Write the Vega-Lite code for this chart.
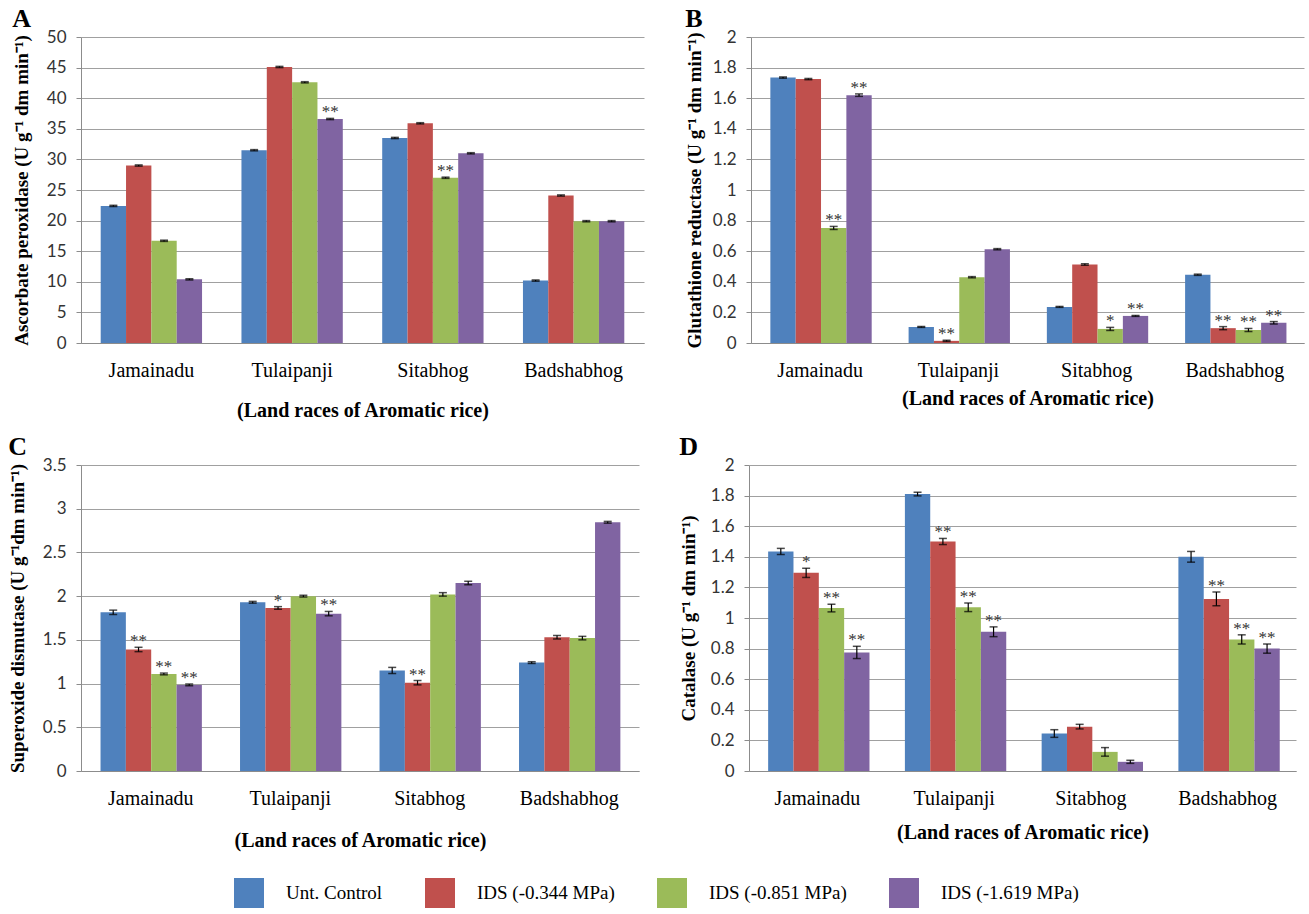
{
  "$schema": "https://vega.github.io/schema/vega-lite/v6.json",
  "background": "white",
  "padding": {"left": 8, "top": 6, "right": 5, "bottom": 0},
  "datasets": {
    "apx": [
      {"race": "Jamainadu", "treat": "Unt. Control", "value": 22.4, "lo": 22.3, "hi": 22.5, "sig": ""},
      {"race": "Jamainadu", "treat": "IDS (-0.344 MPa)", "value": 29.0, "lo": 28.9, "hi": 29.1, "sig": ""},
      {"race": "Jamainadu", "treat": "IDS (-0.851 MPa)", "value": 16.7, "lo": 16.6, "hi": 16.8, "sig": ""},
      {"race": "Jamainadu", "treat": "IDS (-1.619 MPa)", "value": 10.4, "lo": 10.3, "hi": 10.5, "sig": ""},
      {"race": "Tulaipanji", "treat": "Unt. Control", "value": 31.5, "lo": 31.4, "hi": 31.6, "sig": ""},
      {"race": "Tulaipanji", "treat": "IDS (-0.344 MPa)", "value": 45.1, "lo": 45.0, "hi": 45.2, "sig": ""},
      {"race": "Tulaipanji", "treat": "IDS (-0.851 MPa)", "value": 42.6, "lo": 42.5, "hi": 42.7, "sig": ""},
      {"race": "Tulaipanji", "treat": "IDS (-1.619 MPa)", "value": 36.6, "lo": 36.5, "hi": 36.7, "sig": "**"},
      {"race": "Sitabhog", "treat": "Unt. Control", "value": 33.5, "lo": 33.4, "hi": 33.6, "sig": ""},
      {"race": "Sitabhog", "treat": "IDS (-0.344 MPa)", "value": 35.9, "lo": 35.8, "hi": 36.0, "sig": ""},
      {"race": "Sitabhog", "treat": "IDS (-0.851 MPa)", "value": 27.0, "lo": 26.9, "hi": 27.1, "sig": "**"},
      {"race": "Sitabhog", "treat": "IDS (-1.619 MPa)", "value": 31.0, "lo": 30.9, "hi": 31.1, "sig": ""},
      {"race": "Badshabhog", "treat": "Unt. Control", "value": 10.2, "lo": 10.1, "hi": 10.3, "sig": ""},
      {"race": "Badshabhog", "treat": "IDS (-0.344 MPa)", "value": 24.1, "lo": 24.0, "hi": 24.2, "sig": ""},
      {"race": "Badshabhog", "treat": "IDS (-0.851 MPa)", "value": 19.9, "lo": 19.8, "hi": 20.0, "sig": ""},
      {"race": "Badshabhog", "treat": "IDS (-1.619 MPa)", "value": 19.9, "lo": 19.8, "hi": 20.0, "sig": ""}
    ],
    "gr": [
      {"race": "Jamainadu", "treat": "Unt. Control", "value": 1.735, "lo": 1.731, "hi": 1.739, "sig": ""},
      {"race": "Jamainadu", "treat": "IDS (-0.344 MPa)", "value": 1.725, "lo": 1.721, "hi": 1.729, "sig": ""},
      {"race": "Jamainadu", "treat": "IDS (-0.851 MPa)", "value": 0.752, "lo": 0.742, "hi": 0.762, "sig": "**"},
      {"race": "Jamainadu", "treat": "IDS (-1.619 MPa)", "value": 1.62, "lo": 1.612, "hi": 1.628, "sig": "**"},
      {"race": "Tulaipanji", "treat": "Unt. Control", "value": 0.105, "lo": 0.102, "hi": 0.108, "sig": ""},
      {"race": "Tulaipanji", "treat": "IDS (-0.344 MPa)", "value": 0.014, "lo": 0.01, "hi": 0.018, "sig": "**"},
      {"race": "Tulaipanji", "treat": "IDS (-0.851 MPa)", "value": 0.43, "lo": 0.426, "hi": 0.434, "sig": ""},
      {"race": "Tulaipanji", "treat": "IDS (-1.619 MPa)", "value": 0.613, "lo": 0.609, "hi": 0.617, "sig": ""},
      {"race": "Sitabhog", "treat": "Unt. Control", "value": 0.236, "lo": 0.233, "hi": 0.239, "sig": ""},
      {"race": "Sitabhog", "treat": "IDS (-0.344 MPa)", "value": 0.513, "lo": 0.508, "hi": 0.518, "sig": ""},
      {"race": "Sitabhog", "treat": "IDS (-0.851 MPa)", "value": 0.092, "lo": 0.082, "hi": 0.102, "sig": "*"},
      {"race": "Sitabhog", "treat": "IDS (-1.619 MPa)", "value": 0.177, "lo": 0.174, "hi": 0.18, "sig": "**"},
      {"race": "Badshabhog", "treat": "Unt. Control", "value": 0.446, "lo": 0.442, "hi": 0.45, "sig": ""},
      {"race": "Badshabhog", "treat": "IDS (-0.344 MPa)", "value": 0.097, "lo": 0.087, "hi": 0.107, "sig": "**"},
      {"race": "Badshabhog", "treat": "IDS (-0.851 MPa)", "value": 0.085, "lo": 0.075, "hi": 0.095, "sig": "**"},
      {"race": "Badshabhog", "treat": "IDS (-1.619 MPa)", "value": 0.132, "lo": 0.124, "hi": 0.14, "sig": "**"}
    ],
    "sod": [
      {"race": "Jamainadu", "treat": "Unt. Control", "value": 1.815, "lo": 1.79, "hi": 1.84, "sig": ""},
      {"race": "Jamainadu", "treat": "IDS (-0.344 MPa)", "value": 1.39, "lo": 1.365, "hi": 1.415, "sig": "**"},
      {"race": "Jamainadu", "treat": "IDS (-0.851 MPa)", "value": 1.11, "lo": 1.1, "hi": 1.12, "sig": "**"},
      {"race": "Jamainadu", "treat": "IDS (-1.619 MPa)", "value": 0.985, "lo": 0.975, "hi": 0.995, "sig": "**"},
      {"race": "Tulaipanji", "treat": "Unt. Control", "value": 1.93, "lo": 1.92, "hi": 1.94, "sig": ""},
      {"race": "Tulaipanji", "treat": "IDS (-0.344 MPa)", "value": 1.865, "lo": 1.85, "hi": 1.88, "sig": "*"},
      {"race": "Tulaipanji", "treat": "IDS (-0.851 MPa)", "value": 2.0, "lo": 1.99, "hi": 2.01, "sig": ""},
      {"race": "Tulaipanji", "treat": "IDS (-1.619 MPa)", "value": 1.8, "lo": 1.775, "hi": 1.825, "sig": "**"},
      {"race": "Sitabhog", "treat": "Unt. Control", "value": 1.15, "lo": 1.115, "hi": 1.185, "sig": ""},
      {"race": "Sitabhog", "treat": "IDS (-0.344 MPa)", "value": 1.01, "lo": 0.985, "hi": 1.035, "sig": "**"},
      {"race": "Sitabhog", "treat": "IDS (-0.851 MPa)", "value": 2.02, "lo": 2.0, "hi": 2.04, "sig": ""},
      {"race": "Sitabhog", "treat": "IDS (-1.619 MPa)", "value": 2.15, "lo": 2.13, "hi": 2.17, "sig": ""},
      {"race": "Badshabhog", "treat": "Unt. Control", "value": 1.24, "lo": 1.23, "hi": 1.25, "sig": ""},
      {"race": "Badshabhog", "treat": "IDS (-0.344 MPa)", "value": 1.53, "lo": 1.51, "hi": 1.55, "sig": ""},
      {"race": "Badshabhog", "treat": "IDS (-0.851 MPa)", "value": 1.52, "lo": 1.5, "hi": 1.54, "sig": ""},
      {"race": "Badshabhog", "treat": "IDS (-1.619 MPa)", "value": 2.845, "lo": 2.835, "hi": 2.855, "sig": ""}
    ],
    "cat": [
      {"race": "Jamainadu", "treat": "Unt. Control", "value": 1.435, "lo": 1.415, "hi": 1.455, "sig": ""},
      {"race": "Jamainadu", "treat": "IDS (-0.344 MPa)", "value": 1.295, "lo": 1.265, "hi": 1.325, "sig": "*"},
      {"race": "Jamainadu", "treat": "IDS (-0.851 MPa)", "value": 1.065, "lo": 1.04, "hi": 1.09, "sig": "**"},
      {"race": "Jamainadu", "treat": "IDS (-1.619 MPa)", "value": 0.775, "lo": 0.735, "hi": 0.815, "sig": "**"},
      {"race": "Tulaipanji", "treat": "Unt. Control", "value": 1.81, "lo": 1.798, "hi": 1.822, "sig": ""},
      {"race": "Tulaipanji", "treat": "IDS (-0.344 MPa)", "value": 1.5, "lo": 1.48, "hi": 1.52, "sig": "**"},
      {"race": "Tulaipanji", "treat": "IDS (-0.851 MPa)", "value": 1.07, "lo": 1.042, "hi": 1.098, "sig": "**"},
      {"race": "Tulaipanji", "treat": "IDS (-1.619 MPa)", "value": 0.91, "lo": 0.878, "hi": 0.942, "sig": "**"},
      {"race": "Sitabhog", "treat": "Unt. Control", "value": 0.245, "lo": 0.22, "hi": 0.27, "sig": ""},
      {"race": "Sitabhog", "treat": "IDS (-0.344 MPa)", "value": 0.29, "lo": 0.275, "hi": 0.305, "sig": ""},
      {"race": "Sitabhog", "treat": "IDS (-0.851 MPa)", "value": 0.125, "lo": 0.097, "hi": 0.153, "sig": ""},
      {"race": "Sitabhog", "treat": "IDS (-1.619 MPa)", "value": 0.06, "lo": 0.05, "hi": 0.07, "sig": ""},
      {"race": "Badshabhog", "treat": "Unt. Control", "value": 1.4, "lo": 1.365, "hi": 1.435, "sig": ""},
      {"race": "Badshabhog", "treat": "IDS (-0.344 MPa)", "value": 1.125, "lo": 1.08, "hi": 1.17, "sig": "**"},
      {"race": "Badshabhog", "treat": "IDS (-0.851 MPa)", "value": 0.86, "lo": 0.83, "hi": 0.89, "sig": "**"},
      {"race": "Badshabhog", "treat": "IDS (-1.619 MPa)", "value": 0.8, "lo": 0.77, "hi": 0.83, "sig": "**"}
    ]
  },
  "config": {
    "view": {"stroke": null},
    "font": "Liberation Serif",
    "title": {"anchor": "start", "frame": "bounds", "font": "Liberation Serif", "fontSize": 26, "fontWeight": "bold", "color": "black", "offset": -4},
    "axisY": {"domainColor": "#8c8c8c", "gridColor": "#a0a0a0", "tickColor": "#8c8c8c", "tickSize": 5, "labelFont": "Lato", "labelFontSize": 17, "labelColor": "#333333", "labelPadding": 10, "labelOverlap": false, "titleFont": "Liberation Serif", "titleFontWeight": "bold", "titleFontSize": 19, "titleColor": "black"},
    "axisX": {"domainColor": "#8c8c8c", "ticks": false, "grid": false, "labelAngle": 0, "labelFont": "Liberation Serif", "labelFontSize": 20, "labelColor": "black", "labelPadding": 17, "titleFont": "Liberation Serif", "titleFontWeight": "bold", "titleFontSize": 20, "titleColor": "black"},
    "legend": {"labelFont": "Liberation Serif", "labelFontSize": 19, "labelColor": "black"}
  },
  "spacing": 14,
  "vconcat": [
    {
      "spacing": 41,
      "hconcat": [
        {
          "title": "A",
          "width": 563, "height": 306,
          "data": {"name": "apx"},
          "encoding": {
            "x": {"field": "race", "type": "nominal", "sort": ["Jamainadu", "Tulaipanji", "Sitabhog", "Badshabhog"], "scale": {"paddingInner": 0.28, "paddingOuter": 0.14}, "title": "(Land races of Aromatic rice)", "axis": {"titlePadding": 20}},
            "xOffset": {"field": "treat", "type": "nominal", "sort": ["Unt. Control", "IDS (-0.344 MPa)", "IDS (-0.851 MPa)", "IDS (-1.619 MPa)"]}
          },
          "layer": [
            {"mark": {"type": "bar"}, "encoding": {
              "y": {"field": "value", "type": "quantitative", "scale": {"domain": [0, 50], "nice": false}, "axis": {"values": [0, 5, 10, 15, 20, 25, 30, 35, 40, 45, 50], "titlePadding": 15}, "title": "Ascorbate peroxidase (U g⁻¹ dm min⁻¹)"},
              "color": {"field": "treat", "type": "nominal", "scale": {"domain": ["Unt. Control", "IDS (-0.344 MPa)", "IDS (-0.851 MPa)", "IDS (-1.619 MPa)"], "range": ["#4F81BD", "#C0504D", "#9BBB59", "#8064A2"]}, "legend": {"orient": "none", "legendX": 153, "legendY": 841, "direction": "horizontal", "title": null, "symbolType": "square", "symbolSize": 900, "symbolStrokeWidth": 0, "labelOffset": 22, "columnPadding": 42}}
            }},
            {"mark": {"type": "rule", "color": "black", "strokeWidth": 1.2}, "encoding": {"y": {"field": "lo", "type": "quantitative", "scale": {"domain": [0, 50], "nice": false}, "axis": {"values": [0, 5, 10, 15, 20, 25, 30, 35, 40, 45, 50], "titlePadding": 15}, "title": "Ascorbate peroxidase (U g⁻¹ dm min⁻¹)"}, "y2": {"field": "hi"}}},
            {"mark": {"type": "tick", "color": "black", "thickness": 1.5, "size": 8}, "encoding": {"y": {"field": "lo", "type": "quantitative", "scale": {"domain": [0, 50], "nice": false}, "axis": {"values": [0, 5, 10, 15, 20, 25, 30, 35, 40, 45, 50], "titlePadding": 15}, "title": "Ascorbate peroxidase (U g⁻¹ dm min⁻¹)"}}},
            {"mark": {"type": "tick", "color": "black", "thickness": 1.5, "size": 8}, "encoding": {"y": {"field": "hi", "type": "quantitative", "scale": {"domain": [0, 50], "nice": false}, "axis": {"values": [0, 5, 10, 15, 20, 25, 30, 35, 40, 45, 50], "titlePadding": 15}, "title": "Ascorbate peroxidase (U g⁻¹ dm min⁻¹)"}}},
            {"mark": {"type": "text", "font": "Liberation Serif", "fontSize": 17, "color": "#333333", "baseline": "alphabetic", "dy": -1}, "encoding": {"y": {"field": "hi", "type": "quantitative", "scale": {"domain": [0, 50], "nice": false}, "axis": {"values": [0, 5, 10, 15, 20, 25, 30, 35, 40, 45, 50], "titlePadding": 15}, "title": "Ascorbate peroxidase (U g⁻¹ dm min⁻¹)"}, "text": {"field": "sig"}}}
          ]
        },
        {
          "title": "B",
          "width": 553, "height": 306,
          "data": {"name": "gr"},
          "encoding": {
            "x": {"field": "race", "type": "nominal", "sort": ["Jamainadu", "Tulaipanji", "Sitabhog", "Badshabhog"], "scale": {"paddingInner": 0.28, "paddingOuter": 0.14}, "title": "(Land races of Aromatic rice)", "axis": {"titlePadding": 8}},
            "xOffset": {"field": "treat", "type": "nominal", "sort": ["Unt. Control", "IDS (-0.344 MPa)", "IDS (-0.851 MPa)", "IDS (-1.619 MPa)"]}
          },
          "layer": [
            {"mark": {"type": "bar"}, "encoding": {
              "y": {"field": "value", "type": "quantitative", "scale": {"domain": [0, 2], "nice": false}, "axis": {"values": [0, 0.2, 0.4, 0.6, 0.8, 1, 1.2, 1.4, 1.6, 1.8, 2], "format": "~g", "titlePadding": 8}, "title": "Glutathione reductase (U g⁻¹ dm min⁻¹)"},
              "color": {"field": "treat", "type": "nominal", "scale": {"domain": ["Unt. Control", "IDS (-0.344 MPa)", "IDS (-0.851 MPa)", "IDS (-1.619 MPa)"], "range": ["#4F81BD", "#C0504D", "#9BBB59", "#8064A2"]}, "legend": {"orient": "none", "legendX": 153, "legendY": 841, "direction": "horizontal", "title": null, "symbolType": "square", "symbolSize": 900, "symbolStrokeWidth": 0, "labelOffset": 22, "columnPadding": 42}}
            }},
            {"mark": {"type": "rule", "color": "black", "strokeWidth": 1.2}, "encoding": {"y": {"field": "lo", "type": "quantitative", "scale": {"domain": [0, 2], "nice": false}, "axis": {"values": [0, 0.2, 0.4, 0.6, 0.8, 1, 1.2, 1.4, 1.6, 1.8, 2], "format": "~g", "titlePadding": 8}, "title": "Glutathione reductase (U g⁻¹ dm min⁻¹)"}, "y2": {"field": "hi"}}},
            {"mark": {"type": "tick", "color": "black", "thickness": 1.5, "size": 8}, "encoding": {"y": {"field": "lo", "type": "quantitative", "scale": {"domain": [0, 2], "nice": false}, "axis": {"values": [0, 0.2, 0.4, 0.6, 0.8, 1, 1.2, 1.4, 1.6, 1.8, 2], "format": "~g", "titlePadding": 8}, "title": "Glutathione reductase (U g⁻¹ dm min⁻¹)"}}},
            {"mark": {"type": "tick", "color": "black", "thickness": 1.5, "size": 8}, "encoding": {"y": {"field": "hi", "type": "quantitative", "scale": {"domain": [0, 2], "nice": false}, "axis": {"values": [0, 0.2, 0.4, 0.6, 0.8, 1, 1.2, 1.4, 1.6, 1.8, 2], "format": "~g", "titlePadding": 8}, "title": "Glutathione reductase (U g⁻¹ dm min⁻¹)"}}},
            {"mark": {"type": "text", "font": "Liberation Serif", "fontSize": 17, "color": "#333333", "baseline": "alphabetic", "dy": -1}, "encoding": {"y": {"field": "hi", "type": "quantitative", "scale": {"domain": [0, 2], "nice": false}, "axis": {"values": [0, 0.2, 0.4, 0.6, 0.8, 1, 1.2, 1.4, 1.6, 1.8, 2], "format": "~g", "titlePadding": 8}, "title": "Glutathione reductase (U g⁻¹ dm min⁻¹)"}, "text": {"field": "sig"}}}
          ]
        }
      ]
    },
    {
      "spacing": 40,
      "hconcat": [
        {
          "title": "C",
          "width": 558, "height": 306,
          "data": {"name": "sod"},
          "encoding": {
            "x": {"field": "race", "type": "nominal", "sort": ["Jamainadu", "Tulaipanji", "Sitabhog", "Badshabhog"], "scale": {"paddingInner": 0.28, "paddingOuter": 0.14}, "title": "(Land races of Aromatic rice)", "axis": {"titlePadding": 22}},
            "xOffset": {"field": "treat", "type": "nominal", "sort": ["Unt. Control", "IDS (-0.344 MPa)", "IDS (-0.851 MPa)", "IDS (-1.619 MPa)"]}
          },
          "layer": [
            {"mark": {"type": "bar"}, "encoding": {
              "y": {"field": "value", "type": "quantitative", "scale": {"domain": [0, 3.5], "nice": false}, "axis": {"values": [0, 0.5, 1, 1.5, 2, 2.5, 3, 3.5], "format": "~g", "titlePadding": 15}, "title": "Superoxide dismutase (U g⁻¹dm min⁻¹)"},
              "color": {"field": "treat", "type": "nominal", "scale": {"domain": ["Unt. Control", "IDS (-0.344 MPa)", "IDS (-0.851 MPa)", "IDS (-1.619 MPa)"], "range": ["#4F81BD", "#C0504D", "#9BBB59", "#8064A2"]}, "legend": {"orient": "none", "legendX": 153, "legendY": 841, "direction": "horizontal", "title": null, "symbolType": "square", "symbolSize": 900, "symbolStrokeWidth": 0, "labelOffset": 22, "columnPadding": 42}}
            }},
            {"mark": {"type": "rule", "color": "black", "strokeWidth": 1.2}, "encoding": {"y": {"field": "lo", "type": "quantitative", "scale": {"domain": [0, 3.5], "nice": false}, "axis": {"values": [0, 0.5, 1, 1.5, 2, 2.5, 3, 3.5], "format": "~g", "titlePadding": 15}, "title": "Superoxide dismutase (U g⁻¹dm min⁻¹)"}, "y2": {"field": "hi"}}},
            {"mark": {"type": "tick", "color": "black", "thickness": 1.5, "size": 8}, "encoding": {"y": {"field": "lo", "type": "quantitative", "scale": {"domain": [0, 3.5], "nice": false}, "axis": {"values": [0, 0.5, 1, 1.5, 2, 2.5, 3, 3.5], "format": "~g", "titlePadding": 15}, "title": "Superoxide dismutase (U g⁻¹dm min⁻¹)"}}},
            {"mark": {"type": "tick", "color": "black", "thickness": 1.5, "size": 8}, "encoding": {"y": {"field": "hi", "type": "quantitative", "scale": {"domain": [0, 3.5], "nice": false}, "axis": {"values": [0, 0.5, 1, 1.5, 2, 2.5, 3, 3.5], "format": "~g", "titlePadding": 15}, "title": "Superoxide dismutase (U g⁻¹dm min⁻¹)"}}},
            {"mark": {"type": "text", "font": "Liberation Serif", "fontSize": 17, "color": "#333333", "baseline": "alphabetic", "dy": -1}, "encoding": {"y": {"field": "hi", "type": "quantitative", "scale": {"domain": [0, 3.5], "nice": false}, "axis": {"values": [0, 0.5, 1, 1.5, 2, 2.5, 3, 3.5], "format": "~g", "titlePadding": 15}, "title": "Superoxide dismutase (U g⁻¹dm min⁻¹)"}, "text": {"field": "sig"}}}
          ]
        },
        {
          "title": "D",
          "width": 547, "height": 306,
          "data": {"name": "cat"},
          "encoding": {
            "x": {"field": "race", "type": "nominal", "sort": ["Jamainadu", "Tulaipanji", "Sitabhog", "Badshabhog"], "scale": {"paddingInner": 0.28, "paddingOuter": 0.14}, "title": "(Land races of Aromatic rice)", "axis": {"titlePadding": 14}},
            "xOffset": {"field": "treat", "type": "nominal", "sort": ["Unt. Control", "IDS (-0.344 MPa)", "IDS (-0.851 MPa)", "IDS (-1.619 MPa)"]}
          },
          "layer": [
            {"mark": {"type": "bar"}, "encoding": {
              "y": {"field": "value", "type": "quantitative", "scale": {"domain": [0, 2], "nice": false}, "axis": {"values": [0, 0.2, 0.4, 0.6, 0.8, 1, 1.2, 1.4, 1.6, 1.8, 2], "format": "~g", "titlePadding": 12}, "title": "Catalase (U g⁻¹ dm min⁻¹)"},
              "color": {"field": "treat", "type": "nominal", "scale": {"domain": ["Unt. Control", "IDS (-0.344 MPa)", "IDS (-0.851 MPa)", "IDS (-1.619 MPa)"], "range": ["#4F81BD", "#C0504D", "#9BBB59", "#8064A2"]}, "legend": {"orient": "none", "legendX": 153, "legendY": 841, "direction": "horizontal", "title": null, "symbolType": "square", "symbolSize": 900, "symbolStrokeWidth": 0, "labelOffset": 22, "columnPadding": 42}}
            }},
            {"mark": {"type": "rule", "color": "black", "strokeWidth": 1.2}, "encoding": {"y": {"field": "lo", "type": "quantitative", "scale": {"domain": [0, 2], "nice": false}, "axis": {"values": [0, 0.2, 0.4, 0.6, 0.8, 1, 1.2, 1.4, 1.6, 1.8, 2], "format": "~g", "titlePadding": 12}, "title": "Catalase (U g⁻¹ dm min⁻¹)"}, "y2": {"field": "hi"}}},
            {"mark": {"type": "tick", "color": "black", "thickness": 1.5, "size": 8}, "encoding": {"y": {"field": "lo", "type": "quantitative", "scale": {"domain": [0, 2], "nice": false}, "axis": {"values": [0, 0.2, 0.4, 0.6, 0.8, 1, 1.2, 1.4, 1.6, 1.8, 2], "format": "~g", "titlePadding": 12}, "title": "Catalase (U g⁻¹ dm min⁻¹)"}}},
            {"mark": {"type": "tick", "color": "black", "thickness": 1.5, "size": 8}, "encoding": {"y": {"field": "hi", "type": "quantitative", "scale": {"domain": [0, 2], "nice": false}, "axis": {"values": [0, 0.2, 0.4, 0.6, 0.8, 1, 1.2, 1.4, 1.6, 1.8, 2], "format": "~g", "titlePadding": 12}, "title": "Catalase (U g⁻¹ dm min⁻¹)"}}},
            {"mark": {"type": "text", "font": "Liberation Serif", "fontSize": 17, "color": "#333333", "baseline": "alphabetic", "dy": -1}, "encoding": {"y": {"field": "hi", "type": "quantitative", "scale": {"domain": [0, 2], "nice": false}, "axis": {"values": [0, 0.2, 0.4, 0.6, 0.8, 1, 1.2, 1.4, 1.6, 1.8, 2], "format": "~g", "titlePadding": 12}, "title": "Catalase (U g⁻¹ dm min⁻¹)"}, "text": {"field": "sig"}}}
          ]
        }
      ]
    }
  ]
}
